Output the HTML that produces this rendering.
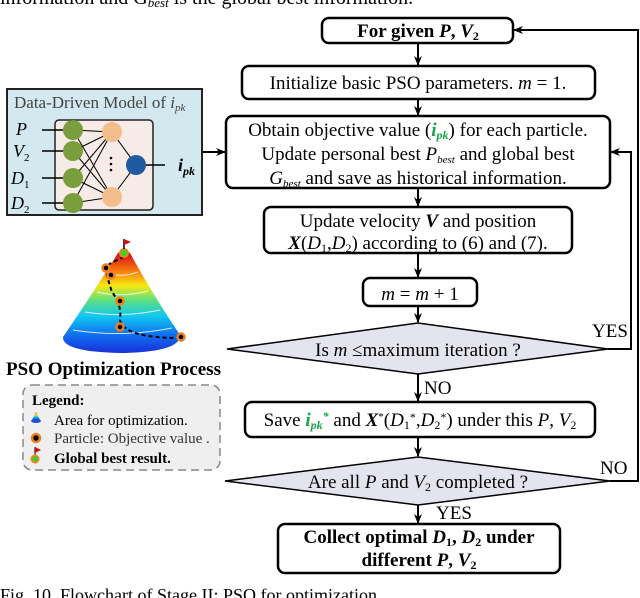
<!DOCTYPE html>
<html><head><meta charset="utf-8"><style>
html,body{margin:0;padding:0;background:#fff;}
svg{display:block;}
svg text{font-family:"Liberation Serif",serif;}
</style></head><body>
<svg width="640" height="598" viewBox="0 0 640 598" xmlns="http://www.w3.org/2000/svg">
<defs>
<marker id="ar" markerWidth="10" markerHeight="10" refX="9" refY="5" orient="auto" markerUnits="userSpaceOnUse">
<path d="M0,1 L10,5 L0,9 L3,5 Z" fill="#000"/></marker>
<linearGradient id="cone" x1="0" y1="1" x2="0" y2="0">
<stop offset="0" stop-color="#1a2fd8"/><stop offset="0.18" stop-color="#1070f0"/>
<stop offset="0.36" stop-color="#10c8f0"/><stop offset="0.52" stop-color="#60e080"/>
<stop offset="0.66" stop-color="#f8e810"/><stop offset="0.82" stop-color="#f87010"/>
<stop offset="1" stop-color="#d00010"/></linearGradient>
</defs>
<text x="0" y="4" font-size="20">information and G<tspan font-style="italic" font-size="13" dy="3">best</tspan><tspan dy="-3"> is the global best information.</tspan></text>

<g fill="#fff" stroke="#000" stroke-width="2.5">
<rect x="322" y="18" width="191" height="25" rx="7"/>
<rect x="242" y="66" width="353" height="33" rx="7"/>
<rect x="226" y="116" width="384" height="72" rx="7"/>
<rect x="264" y="207" width="308" height="46" rx="7"/>
<rect x="363" y="278" width="114" height="28" rx="7"/>
<rect x="245" y="402" width="350" height="35" rx="7"/>
<rect x="278" y="524" width="282" height="49" rx="7"/>
</g>
<g fill="#e4e4ee" stroke="#000" stroke-width="1.5">
<polygon points="227,349 418,323 608,349 418,374"/>
<polygon points="225,481 418,457 610,481 418,505"/>
</g>
<g font-size="19" text-anchor="middle">
<text x="418" y="37" font-weight="bold">For given <tspan font-style="italic">P</tspan>, <tspan font-style="italic">V</tspan><tspan font-size="12" dy="3">2</tspan></text>
<text x="418" y="89">Initialize basic PSO parameters. <tspan font-style="italic">m</tspan> = 1.</text>
<text x="418" y="136">Obtain objective value (<tspan fill="#1aa34a" font-weight="bold" font-style="italic">i<tspan font-size="12" dy="3">pk</tspan></tspan><tspan dy="-3">) for each particle.</tspan></text>
<text x="418" y="160">Update personal best <tspan font-style="italic">P<tspan font-size="11" dy="3">best</tspan></tspan><tspan dy="-3"> and global best</tspan></text>
<text x="418" y="184"><tspan font-style="italic">G<tspan font-size="11" dy="3">best</tspan></tspan><tspan dy="-3"> and save as historical information.</tspan></text>
<text x="418" y="227">Update velocity <tspan font-weight="bold" font-style="italic">V</tspan> and position</text>
<text x="418" y="249"><tspan font-weight="bold" font-style="italic">X</tspan>(<tspan font-style="italic">D</tspan><tspan font-size="12" dy="3">1</tspan><tspan dy="-3">,</tspan><tspan font-style="italic">D</tspan><tspan font-size="12" dy="3">2</tspan><tspan dy="-3">) according to (6) and (7).</tspan></text>
<text x="420" y="300"><tspan font-style="italic">m</tspan> = <tspan font-style="italic">m</tspan> + 1</text>
<text x="418" y="356">Is <tspan font-style="italic">m</tspan> ≤maximum iteration ?</text>
<text x="420" y="426">Save <tspan fill="#1aa34a" font-weight="bold" font-style="italic">i<tspan font-size="12" dy="3">pk</tspan><tspan font-size="12" dy="-9">*</tspan></tspan><tspan dy="6"> and </tspan><tspan font-weight="bold" font-style="italic">X</tspan><tspan font-size="11" dy="-6">*</tspan><tspan dy="6">(</tspan><tspan font-style="italic">D</tspan><tspan font-size="12" dy="3">1</tspan><tspan font-size="12" dy="-8">*</tspan><tspan dy="5">,</tspan><tspan font-style="italic">D</tspan><tspan font-size="12" dy="3">2</tspan><tspan font-size="12" dy="-8">*</tspan><tspan dy="5">) under this </tspan><tspan font-style="italic">P</tspan>, <tspan font-style="italic">V</tspan><tspan font-size="12" dy="3">2</tspan></text>
<text x="418" y="488">Are all <tspan font-style="italic">P</tspan> and <tspan font-style="italic">V</tspan><tspan font-size="12" dy="3">2</tspan><tspan dy="-3"> completed ?</tspan></text>
<g font-weight="bold">
<text x="419" y="543">Collect optimal <tspan font-style="italic">D</tspan><tspan font-size="12" dy="3">1</tspan><tspan dy="-3">, </tspan><tspan font-style="italic">D</tspan><tspan font-size="12" dy="3">2</tspan><tspan dy="-3"> under</tspan></text>
<text x="419" y="566">different <tspan font-style="italic">P</tspan>, <tspan font-style="italic">V</tspan><tspan font-size="12" dy="3">2</tspan></text>
</g>
</g>
<g font-size="19">
<text x="592" y="337">YES</text>
<text x="424" y="394">NO</text>
<text x="600" y="474">NO</text>
<text x="436" y="519">YES</text>
</g>

<g stroke="#000" stroke-width="2" fill="none" marker-end="url(#ar)">
<line x1="418" y1="43" x2="418" y2="65"/>
<line x1="418" y1="99" x2="418" y2="115"/>
<line x1="418" y1="188" x2="418" y2="206"/>
<line x1="418" y1="253" x2="418" y2="277"/>
<line x1="418" y1="306" x2="418" y2="322"/>
<line x1="418" y1="374" x2="418" y2="401"/>
<line x1="418" y1="437" x2="418" y2="456"/>
<line x1="418" y1="505" x2="418" y2="523"/>
<polyline points="608,349 631,349 631,152 611,152"/>
<polyline points="610,481 638,481 638,30 514,30"/>
<line x1="202" y1="152" x2="225" y2="152"/>
</g>

<rect x="7" y="89" width="195" height="126" fill="#d3e8ef" stroke="#222" stroke-width="2"/>
<text x="14" y="108" font-size="17" fill="#444">Data-Driven Model of <tspan font-style="italic">i<tspan font-size="11" dy="3">pk</tspan></tspan></text>
<rect x="55" y="120" width="98" height="90" rx="4" fill="#f7ebe7" stroke="#222" stroke-width="1.5"/>
<g stroke="#000" stroke-width="1.5">
<line x1="42" y1="130" x2="64" y2="130"/><line x1="42" y1="151" x2="64" y2="151"/>
<line x1="42" y1="178" x2="64" y2="178"/><line x1="42" y1="203" x2="64" y2="203"/>
<g stroke-width="1">
<line x1="73" y1="130" x2="112" y2="132"/><line x1="73" y1="130" x2="112" y2="197"/>
<line x1="73" y1="151" x2="112" y2="132"/><line x1="73" y1="151" x2="112" y2="197"/>
<line x1="73" y1="178" x2="112" y2="132"/><line x1="73" y1="178" x2="112" y2="197"/>
<line x1="73" y1="203" x2="112" y2="132"/><line x1="73" y1="203" x2="112" y2="197"/>
<line x1="112" y1="132" x2="136" y2="165"/><line x1="112" y1="197" x2="136" y2="165"/>
</g>
<line x1="146" y1="165" x2="165" y2="165"/>
</g>
<g fill="#7a9e3c"><circle cx="73" cy="130" r="10"/><circle cx="73" cy="151" r="10"/><circle cx="73" cy="178" r="10"/><circle cx="73" cy="203" r="10"/></g>
<g fill="#f5bc8c"><circle cx="112" cy="132" r="10"/><circle cx="112" cy="197" r="10"/></g>
<circle cx="136" cy="165" r="10" fill="#1f5aa0"/>
<g fill="#000"><circle cx="111" cy="158" r="1.3"/><circle cx="111" cy="164" r="1.3"/><circle cx="111" cy="170" r="1.3"/></g>
<g font-size="18" font-style="italic">
<text x="16" y="135">P</text>
<text x="13" y="157">V<tspan font-size="11" dy="4" font-style="normal">2</tspan></text>
<text x="11" y="184">D<tspan font-size="11" dy="4" font-style="normal">1</tspan></text>
<text x="11" y="209">D<tspan font-size="11" dy="4" font-style="normal">2</tspan></text>
<text x="178" y="171" font-weight="bold">i<tspan font-size="12" dy="4">pk</tspan></text>
</g>

<path d="M118,253 Q124,249 130,253 Q150,290 180,335 Q181,352 122,353 Q62,352 63,337 Q95,290 118,253 Z" fill="url(#cone)"/>
<g stroke="#fff" stroke-width="1" fill="none" opacity="0.8">
<path d="M108,273 Q122,278 138,272"/><path d="M97,292 Q122,298 148,291"/>
<path d="M85,312 Q122,318 160,310"/><path d="M73,330 Q122,338 172,328"/>
</g>
<path d="M124,257 Q112,262 105,267 Q108,280 112,292 Q122,305 120,320 Q124,338 180,338" stroke="#000" stroke-width="2" stroke-dasharray="4,3" fill="none"/>
<g fill="#000" stroke="#f08020" stroke-width="2.5">
<circle cx="106" cy="268" r="3.5"/><circle cx="111" cy="275" r="3.5"/><circle cx="120" cy="301" r="3.5"/><circle cx="120" cy="327" r="3.5"/><circle cx="181" cy="337" r="3.5"/>
</g>
<circle cx="124" cy="253" r="4" fill="#22dd22" stroke="#f08020" stroke-width="2"/>
<line x1="124" y1="249" x2="124" y2="239" stroke="#000" stroke-width="1.5"/>
<path d="M124,239 L131,242 L124,245 Z" fill="#d01010"/>
<text x="6" y="375" font-size="19" font-weight="bold">PSO Optimization Process</text>

<rect x="23" y="385" width="197" height="85" rx="9" fill="#efefef" stroke="#888" stroke-width="1.5" stroke-dasharray="8,5"/>
<text x="32" y="405" font-size="15" font-weight="bold">Legend:</text>
<path d="M36,412 L40,420 L32,420 Z" fill="url(#cone)"/>
<ellipse cx="36" cy="421" rx="5" ry="2" fill="#2050d0"/>
<circle cx="36" cy="438" r="4" fill="#000" stroke="#f08020" stroke-width="2.5"/>
<line x1="35" y1="447" x2="35" y2="456" stroke="#000" stroke-width="1"/>
<path d="M35,447 L41,450 L35,453 Z" fill="#d01010"/>
<circle cx="35" cy="459" r="3.5" fill="#22dd22" stroke="#f08020" stroke-width="2"/>
<text x="54" y="425" font-size="15">Area for optimization.</text>
<text x="54" y="443" font-size="15" fill="#333">Particle: Objective value .</text>
<text x="54" y="463" font-size="15" font-weight="bold">Global best result.</text>

<text x="0" y="601" font-size="18">Fig. 10. Flowchart of Stage II: PSO for optimization.</text>
</svg>
</body></html>
